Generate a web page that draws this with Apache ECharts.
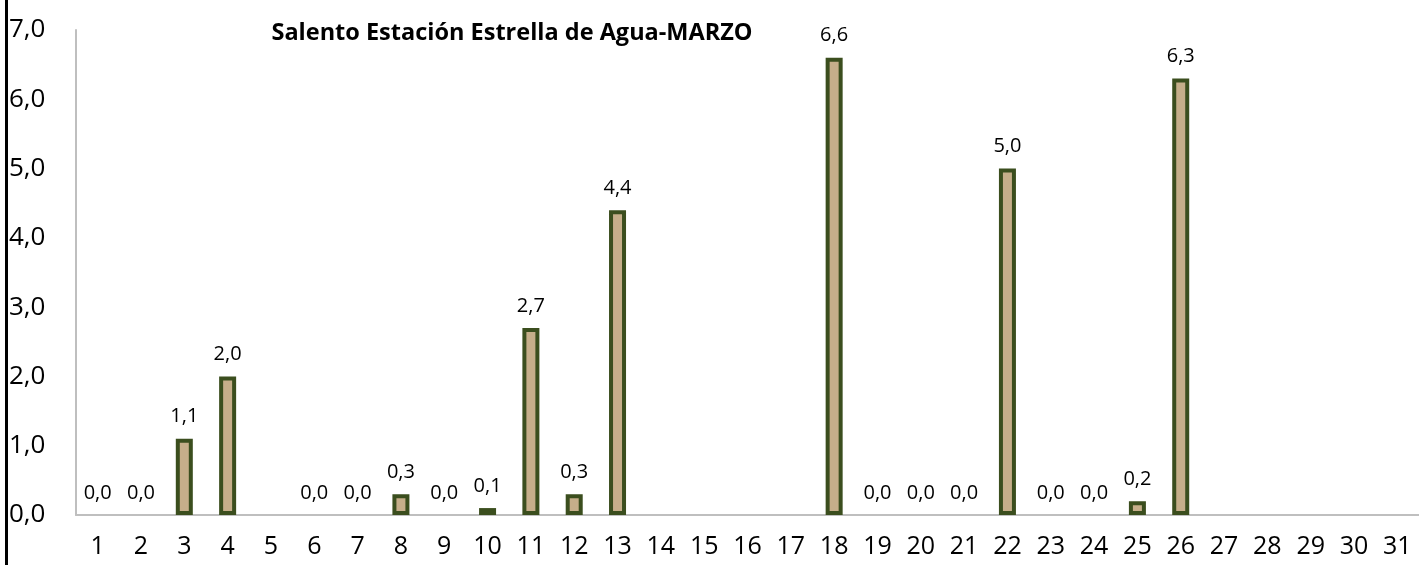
<!DOCTYPE html>
<html>
<head>
<meta charset="utf-8">
<script src="https://cdn.jsdelivr.net/npm/echarts@6/dist/echarts.min.js"></script>
<style>
html,body{margin:0;padding:0;background:#fff;}
#c{width:1419px;height:565px;}
</style>
</head>
<body>
<div id="c"></div>
<script>
var titleText = 'Salento Estación Estrella de Agua-MARZO';
var days = ['1','2','3','4','5','6','7','8','9','10','11','12','13','14','15','16','17','18','19','20','21','22','23','24','25','26','27','28','29','30','31'];
var rain = [0.0,0.0,1.1,2.0,null,0.0,0.0,0.3,0.0,0.1,2.7,0.3,4.4,null,null,null,null,6.6,0.0,0.0,0.0,5.0,0.0,0.0,0.2,6.3,null,null,null,null,null];
var yMin = 0, yMax = 7, yStep = 1;

var FONT = 'Open Sans';
var chart = echarts.init(document.getElementById('c'));
var seriesData = rain.map(function(v){
  if (v === null) return '-';
  if (v === 0) return {value: v, itemStyle: {borderWidth: 0, color: 'rgba(0,0,0,0)'}};
  return v;
});
chart.setOption({
  animation: false,
  title: {
    text: titleText,
    left: 507, top: 16, textAlign: 'center',
    textStyle: {fontFamily: FONT, fontSize: 23.5, fontWeight: 'bold', color: '#000'}
  },
  grid: {left: 76, top: 30, width: 1348.5, height: 485, containLabel: false},
  xAxis: {
    type: 'category',
    data: days,
    axisLine: {show: true, lineStyle: {color: '#BFBFBF', width: 2}},
    axisTick: {show: false},
    axisLabel: {fontFamily: FONT, fontSize: 25, color: '#000', margin: 19, interval: 0}
  },
  yAxis: {
    type: 'value',
    min: yMin, max: yMax, interval: yStep,
    axisLine: {show: true, lineStyle: {color: '#BFBFBF', width: 2}},
    axisTick: {show: false},
    splitLine: {show: false},
    axisLabel: {
      fontFamily: FONT, fontSize: 26, color: '#000', align: 'left', margin: 67,
      formatter: function(v){ return v.toFixed(1).replace('.', ','); }
    }
  },
  series: [{
    type: 'bar',
    data: seriesData,
    barWidth: 17,
    itemStyle: {color: '#C6AE8A', borderColor: '#3B4E1E', borderWidth: 4},
    label: {
      show: true, position: 'top', distance: 12,
      fontFamily: FONT, fontSize: 20, color: '#000',
      formatter: function(p){ return Number(p.value).toFixed(1).replace('.', ','); }
    }
  }],
  graphic: [{
    type: 'rect', shape: {x: 5, y: 0, width: 3, height: 565},
    style: {fill: '#000'}, silent: true
  }]
});
</script>
</body>
</html>
